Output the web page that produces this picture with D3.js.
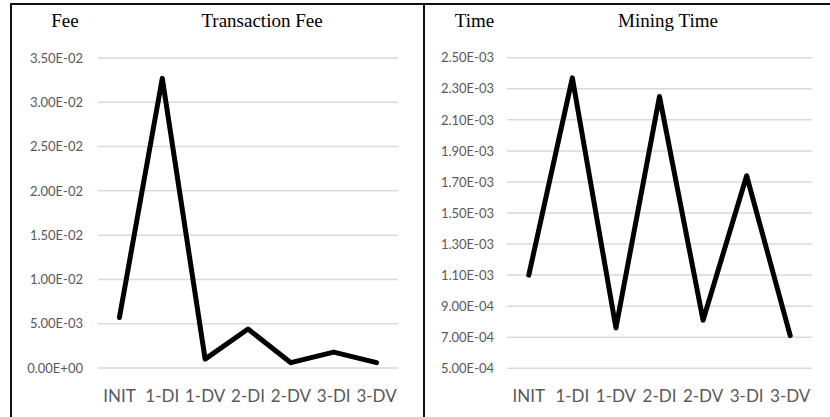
<!DOCTYPE html>
<html><head><meta charset="utf-8">
<script src="https://cdn.jsdelivr.net/npm/d3@7"></script>
<style>html,body{margin:0;padding:0;background:#fff;}svg{display:block;}</style>
</head><body>
<script>
const categories = ["INIT","1-DI","1-DV","2-DI","2-DV","3-DI","3-DV"];
const feeValues = [0.0057, 0.0327, 0.0010, 0.0044, 0.0006, 0.0018, 0.0006];
const timeValues = [0.00110, 0.00237, 0.00076, 0.00225, 0.00081, 0.00174, 0.00071];
const feeTicks = [0, 0.005, 0.01, 0.015, 0.02, 0.025, 0.03, 0.035];
const timeTicks = [0.0005, 0.0007, 0.0009, 0.0011, 0.0013, 0.0015, 0.0017, 0.0019, 0.0021, 0.0023, 0.0025];

const W = 830, H = 417;
const svg = d3.select("body").append("svg").attr("width", W).attr("height", H);

function fmtExp(v){
  let s = v.toExponential(2).toUpperCase(); // e.g. 3.50E-2
  return s.replace(/E([+-])(\d)$/, "E$10$2");
}

const panels = [
  {values: feeValues, ticks: feeTicks, domain:[0,0.035], x0:98, x1:398, yTop:58, yBot:368,
   axisTitle:"Fee", axisTitleX:65, title:"Transaction Fee", titleX:262, labelRight:83},
  {values: timeValues, ticks: timeTicks, domain:[0.0005,0.0025], x0:507, x1:812, yTop:57.7, yBot:368.3,
   axisTitle:"Time", axisTitleX:474.5, title:"Mining Time", titleX:668, labelRight:494}
];

panels.forEach(p => {
  const g = svg.append("g");
  const x = d3.scaleBand().domain(categories).range([p.x0, p.x1]);
  const y = d3.scaleLinear().domain(p.domain).range([p.yBot, p.yTop]);

  // gridlines
  g.append("g").selectAll("line").data(p.ticks).join("line")
    .attr("x1", p.x0).attr("x2", p.x1)
    .attr("y1", d => y(d)).attr("y2", d => y(d))
    .attr("stroke", "#d9d9d9").attr("stroke-width", 1.5);

  // y tick labels
  g.append("g").selectAll("text").data(p.ticks).join("text")
    .attr("x", p.labelRight).attr("y", d => y(d)).attr("dy", "0.36em")
    .attr("text-anchor", "end")
    .attr("font-family", "Lato, 'Open Sans', sans-serif").attr("font-size", 13)
    .attr("fill", "#595959")
    .text(fmtExp);

  // x labels
  g.append("g").selectAll("text").data(categories).join("text")
    .attr("x", d => x(d) + x.bandwidth()/2).attr("y", 402)
    .attr("text-anchor", "middle")
    .attr("font-family", "Lato, 'Open Sans', sans-serif").attr("font-size", 17)
    .attr("fill", "#595959")
    .text(d => d);

  // line
  const line = d3.line().x((d,i) => x(categories[i]) + x.bandwidth()/2).y(d => y(d));
  g.append("path").datum(p.values).attr("d", line)
    .attr("fill", "none").attr("stroke", "#000").attr("stroke-width", 5)
    .attr("stroke-linejoin", "round").attr("stroke-linecap", "round");

  // titles
  g.append("text").attr("x", p.axisTitleX).attr("y", 27).attr("text-anchor", "middle")
    .attr("font-family", "'Liberation Serif', 'Times New Roman', serif").attr("font-size", 19)
    .attr("fill", "#000").text(p.axisTitle);
  g.append("text").attr("x", p.titleX).attr("y", 27).attr("text-anchor", "middle")
    .attr("font-family", "'Liberation Serif', 'Times New Roman', serif").attr("font-size", 19)
    .attr("fill", "#000").text(p.title);
});

// frame
const frame = svg.append("g").attr("stroke", "#111").attr("stroke-width", 2).attr("fill", "none");
frame.append("line").attr("x1", 10).attr("x2", W).attr("y1", 4).attr("y2", 4);
frame.append("line").attr("x1", 11).attr("x2", 11).attr("y1", 3).attr("y2", H);
frame.append("line").attr("x1", 424).attr("x2", 424).attr("y1", 3).attr("y2", H);
</script>
</body></html>
